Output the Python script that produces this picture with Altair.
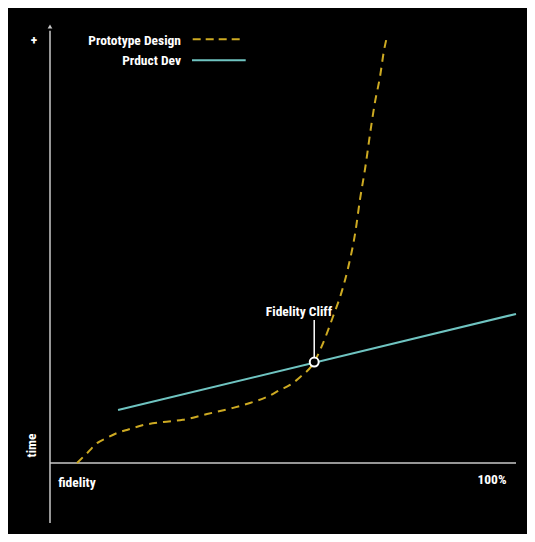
import altair as alt
import pandas as pd

# ---- data (fidelity %, time units) ----
proto_x = [5.8, 8.2, 10.1, 12.2, 14.4, 16.5, 20.0, 24.3, 28.5, 33.7, 39.3, 42.9, 46.6,
           49.4, 51.5, 53.7, 56.7, 58.6, 60.7, 62.7, 64.0, 65.5, 66.5, 67.8, 68.7,
           69.7, 70.8, 71.7, 72.3]
proto_y = [0.0, 2.5, 4.5, 5.7, 6.8, 7.5, 8.6, 9.3, 9.8, 11.1, 12.5, 13.6, 15.0,
           16.6, 17.7, 19.5, 22.9, 27.2, 33.1, 39.2, 44.4, 52.2, 59.6, 68.0, 74.8,
           81.6, 87.5, 93.7, 96.6]
dev_x = [14.6, 100.0]
dev_y = [12.0, 33.8]
cliff_x = [56.7]
cliff_y = [22.9]
legend_labels = ["Prototype Design", "Prduct Dev"]
axis_labels = ["+", "time", "fidelity", "100%"]
cliff_label = "Fidelity Cliff"

YELLOW = "#cdaa22"
TEAL = "#6fc4c1"
AXIS = "#c8c8c8"
FONT = "Roboto Condensed, DejaVu Sans Condensed, Liberation Sans Narrow, Arial Narrow, Noto Sans, sans-serif"
FS = 13.5

xs = alt.Scale(domain=[0, 100], range=[42, 508])
ys = alt.Scale(domain=[0, 100], range=[455, 14])

def X(f):
    return alt.X(f, type="quantitative", scale=xs, axis=None)

def Y(f):
    return alt.Y(f, type="quantitative", scale=ys, axis=None)

proto = pd.DataFrame({"x": proto_x, "y": proto_y})
dev = pd.DataFrame({"x": dev_x, "y": dev_y})
cliff = pd.DataFrame({"x": cliff_x, "y": cliff_y, "label": [cliff_label]})

yaxis_df = pd.DataFrame({"x": [0], "y": [-13.6], "y2": [98.0]})
xaxis_df = pd.DataFrame({"x": [0], "x2": [100], "y": [0]})
arrow_df = pd.DataFrame({"x": [0], "y": [99.0]})

yaxis = alt.Chart(yaxis_df).mark_rule(color=AXIS, strokeWidth=1.5).encode(
    x=X("x"), y=Y("y"), y2="y2:Q")
arrow = alt.Chart(arrow_df).mark_point(shape="triangle-up", filled=True, color=AXIS,
                                       size=22, opacity=1).encode(x=X("x"), y=Y("y"))
xaxis = alt.Chart(xaxis_df).mark_rule(color=AXIS, strokeWidth=1.5).encode(
    x=X("x"), x2="x2:Q", y=Y("y"))

dev_line = alt.Chart(dev).mark_line(color=TEAL, strokeWidth=2).encode(x=X("x"), y=Y("y"))
proto_line = alt.Chart(proto).mark_line(color=YELLOW, strokeWidth=2, strokeDash=[8, 6],
                                        interpolate="monotone").encode(x=X("x"), y=Y("y"))

stem = alt.Chart(cliff).mark_rule(color="white", strokeWidth=1.5).encode(
    x=X("x"), y=alt.value(349), y2=alt.value(312))
circle = alt.Chart(cliff).mark_point(shape="circle", filled=True, fill="black",
                                     stroke="white", strokeWidth=2, size=80,
                                     opacity=1).encode(x=X("x"), y=Y("y"))
cliff_text = alt.Chart(cliff).mark_text(font=FONT, fontWeight="bold", fontSize=FS,
                                        color="white", align="center",
                                        baseline="alphabetic").encode(
    x=alt.value(291), y=alt.value(308), text="label:N")

label_df = pd.DataFrame({"t": axis_labels})
def txt(i, x, y, **kw):
    return alt.Chart(label_df.iloc[[i]]).mark_text(
        font=FONT, fontWeight="bold", fontSize=FS, color="white", **kw
    ).encode(x=alt.value(x), y=alt.value(y), text="t:N")

plus = txt(0, 26, 33, align="center", baseline="middle")
time_t = txt(1, 23.5, 437.5, align="center", baseline="middle", angle=270)
fid_t = txt(2, 69, 479, align="center", baseline="alphabetic")
pct_t = txt(3, 484, 476, align="center", baseline="alphabetic")

leg_df = pd.DataFrame({"t": legend_labels})
leg1 = alt.Chart(leg_df.iloc[[0]]).mark_text(
    font=FONT, fontWeight="bold", fontSize=FS, color="white", align="right",
    baseline="alphabetic").encode(x=alt.value(173), y=alt.value(37), text="t:N")
leg2 = alt.Chart(leg_df.iloc[[1]]).mark_text(
    font=FONT, fontWeight="bold", fontSize=FS, color="white", align="right",
    baseline="alphabetic").encode(x=alt.value(173), y=alt.value(57), text="t:N")
leg1_line = alt.Chart(leg_df.iloc[[0]]).mark_rule(
    color=YELLOW, strokeWidth=2, strokeDash=[8, 5]).encode(
    x=alt.value(184.7), x2=alt.value(232.7), y=alt.value(31.3))
leg2_line = alt.Chart(leg_df.iloc[[1]]).mark_rule(
    color=TEAL, strokeWidth=2).encode(
    x=alt.value(184), x2=alt.value(237.7), y=alt.value(52.3))

chart = alt.layer(
    yaxis, arrow, xaxis, dev_line, proto_line, stem, circle, cliff_text,
    plus, time_t, fid_t, pct_t, leg1, leg2, leg1_line, leg2_line
).properties(
    width=519, height=526, padding=0, background="black",
    autosize=alt.AutoSizeParams(type="none"),
).configure_view(stroke=None)

chart.save("out.html", embed_options={"renderer": "svg", "actions": False})
